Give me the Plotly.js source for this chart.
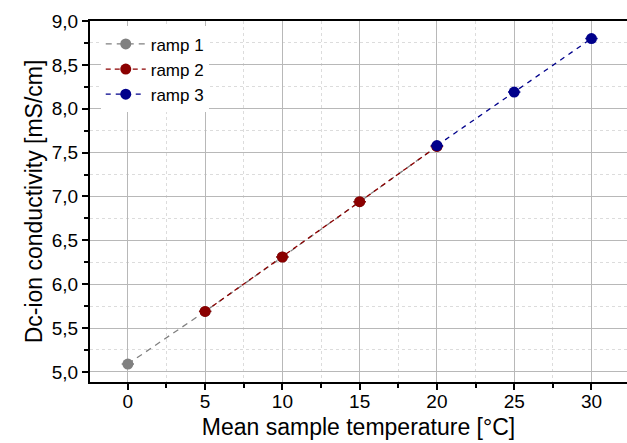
<!DOCTYPE html>
<html>
<head>
<meta charset="utf-8">
<script src="https://cdn.plot.ly/plotly-3.0.1.min.js"></script>
<style>html,body{margin:0;padding:0;background:#fff;}</style>
</head>
<body>
<div id="chart" style="width:627px;height:443px;"></div>
<script>
const ramp1X = [0, 5, 10, 15, 20];
const ramp1Y = [5.09, 5.69, 6.31, 6.94, 7.57];
const ramp2X = [5, 10, 15, 20];
const ramp2Y = [5.69, 6.31, 6.94, 7.57];
const ramp3X = [20, 25, 30];
const ramp3Y = [7.58, 8.19, 8.80];
const xErr = 0.4;
const xTicks = [0, 5, 10, 15, 20, 25, 30];
const yTicks = [5.0, 5.5, 6.0, 6.5, 7.0, 7.5, 8.0, 8.5, 9.0];
const names = ['ramp 1', 'ramp 2', 'ramp 3'];

function tr(x, y, name, color, dash) {
  return {
    x: x, y: y, name: name, type: 'scatter', mode: 'lines+markers',
    line: {color: color, width: 1.3, dash: dash},
    marker: {color: color, size: 11},
    error_x: {type: 'constant', value: xErr, color: color, thickness: 1.5, width: 0}
  };
}
const data = [
  tr(ramp1X, ramp1Y, names[0], '#808080', '6px,5px'),
  tr(ramp2X, ramp2Y, names[1], '#8b0000', '5px,4px'),
  tr(ramp3X, ramp3Y, names[2], '#00008b', '5px,5px')
];
const layout = {
  width: 627, height: 443,
  margin: {l: 90, r: 0, t: 21, b: 61},
  paper_bgcolor: '#fff', plot_bgcolor: '#fff',
  separators: ',.',
  font: {family: 'Liberation Sans, Arial, sans-serif', color: '#000', size: 19},
  showlegend: true,
  legend: {x: 0.02, y: 0.985, xanchor: 'left', yanchor: 'top', bgcolor: 'rgba(255,255,255,1)',
           font: {size: 17}, tracegroupgap: 0, itemwidth: 40},
  xaxis: {
    range: [-2.45, 32.3], tickvals: xTicks, ticktext: xTicks.map(String),
    showline: true, linecolor: '#000', linewidth: 2, mirror: true,
    ticks: 'outside', ticklen: 6, tickwidth: 2, tickcolor: '#000',
    ticklabelstandoff: -5,
    showgrid: true, gridcolor: '#b8b8b8', gridwidth: 1,
    zeroline: false,
    minor: {dtick: 2.5, tick0: 0, ticks: 'outside', ticklen: 4, tickwidth: 2, tickcolor: '#000',
            showgrid: true, gridcolor: '#dcdcdc', griddash: 'dot', gridwidth: 1},
    tickfont: {size: 19},
    title: {text: 'Mean sample temperature [°C]', font: {size: 23}, standoff: 8}
  },
  yaxis: {
    range: [4.885, 9.0], tickvals: yTicks, tickformat: '.1f',
    showline: true, linecolor: '#000', linewidth: 2,
    ticks: 'outside', ticklen: 6, tickwidth: 2, tickcolor: '#000',
    showgrid: true, gridcolor: '#b8b8b8', gridwidth: 1,
    zeroline: false,
    minor: {dtick: 0.25, tick0: 5, ticks: 'outside', ticklen: 4, tickwidth: 2, tickcolor: '#000',
            showgrid: true, gridcolor: '#dcdcdc', griddash: 'dot', gridwidth: 1},
    tickfont: {size: 19},
    title: {text: 'Dc-ion conductivity [mS/cm]', font: {size: 23}, standoff: 3}
  }
};
Plotly.newPlot('chart', data, layout, {displayModeBar: false, staticPlot: true});
</script>
</body>
</html>
